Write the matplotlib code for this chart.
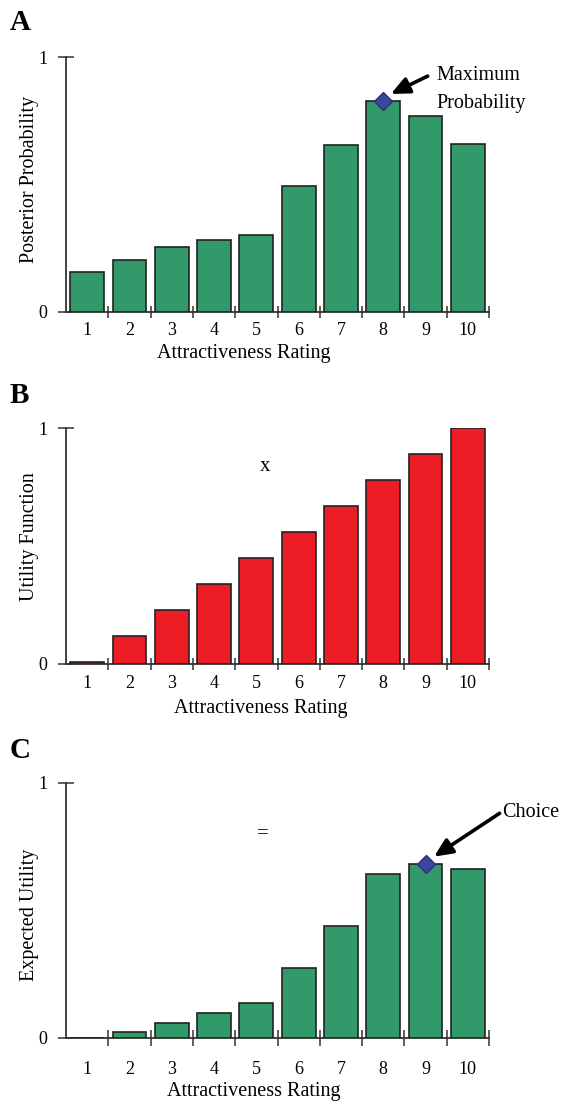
import matplotlib
matplotlib.use("Agg")
import matplotlib.pyplot as plt
from matplotlib.ticker import FixedLocator

ratings = [1, 2, 3, 4, 5, 6, 7, 8, 9, 10]
tick_labels = ["1", "2", "3", "4", "5", "6", "7", "8", "9", "10"]
posterior = [0.157, 0.204, 0.255, 0.282, 0.302, 0.494, 0.655, 0.827, 0.770, 0.659]
utility = [0.01, 0.12, 0.23, 0.34, 0.45, 0.56, 0.67, 0.78, 0.89, 1.00]
expected = [0.0, 0.024, 0.059, 0.095, 0.137, 0.275, 0.440, 0.642, 0.682, 0.660]

GREEN = "#31996a"
RED = "#ec1d25"
EDGE = "#222222"
AXC = "#333333"
DIAMOND = "#3a46a0"

plt.rcParams['font.family'] = ['Liberation Serif', 'DejaVu Serif']

W, H = 561, 1101
fig = plt.figure(figsize=(W / 100, H / 100), dpi=100)

TICKFS = 13
LABFS = 14.5
ARROW = dict(arrowstyle="-|>,head_length=1.1,head_width=0.5", color="black", lw=2.6,
             shrinkA=0, shrinkB=0)


def make_ax(y0px, y1px, x0px=66, x1px=489):
    return fig.add_axes([x0px / W, (H - y0px) / H, (x1px - x0px) / W, (y0px - y1px) / H])


def style(ax, vals, color, ylabel, xpad, ypad_label, xlab_x, ylab_y):
    ax.bar(ratings, vals, width=0.8, color=color, edgecolor=EDGE, linewidth=1.2, zorder=3)
    ax.set_xlim(0.5, 10.5)
    ax.set_ylim(0, 1)
    for s in ["top", "right"]:
        ax.spines[s].set_visible(False)
    for s in ["left", "bottom"]:
        ax.spines[s].set_color(AXC)
        ax.spines[s].set_linewidth(1.3)
    ax.set_xticks(ratings)
    ax.set_xticklabels(tick_labels, fontsize=TICKFS)
    ax.tick_params(axis="x", which="major", length=0, pad=xpad)
    ax.xaxis.set_minor_locator(FixedLocator([r + 0.5 for r in ratings]))
    ax.tick_params(axis="x", which="minor", direction="inout", length=9, width=1.1, color=AXC)
    ax.set_yticks([0, 1])
    ax.set_yticklabels(["0", "1"], fontsize=TICKFS)
    ax.tick_params(axis="y", direction="inout", length=11, width=1.1, color=AXC, pad=8)
    ax.set_xlabel("Attractiveness Rating", fontsize=LABFS)
    ax.xaxis.set_label_coords(xlab_x, ypad_label)
    ax.set_ylabel(ylabel, fontsize=LABFS)
    ax.yaxis.set_label_coords(-0.065, ylab_y)


# Panel A
axA = make_ax(312, 57)
style(axA, posterior, GREEN, "Posterior Probability", 7, -0.125, 0.42, 0.518)
axA.plot([8], [posterior[7]], marker="D", markersize=9, color=DIAMOND,
         markeredgecolor="#2a2f7a", zorder=5, clip_on=False)
axA.annotate("", xy=(8.18, 0.855), xytext=(9.05, 0.925), arrowprops=ARROW,
             annotation_clip=False)
axA.text(9.25, 0.873, "Maximum\nProbability", fontsize=LABFS, va="center", ha="left",
         linespacing=1.6)
fig.text(10 / W, 1 - 23 / H, "A", fontsize=21, fontweight="bold", va="center", ha="left")

# Panel B
axB = make_ax(664, 428.3)
style(axB, utility, RED, "Utility Function", 8, -0.148, 0.46, 0.539)
axB.text(5.2, 0.836, "x", fontsize=15, ha="center", va="center")
fig.text(10 / W, 1 - 395 / H, "B", fontsize=21, fontweight="bold", va="center", ha="left")

# Panel C
axC = make_ax(1037.7, 782.7)
style(axC, expected, GREEN, "Expected Utility", 17, -0.175, 0.445, 0.48)
axC.tick_params(axis="x", which="minor", length=12)
axC.plot([9], [expected[8]], marker="D", markersize=9, color=DIAMOND,
         markeredgecolor="#2a2f7a", zorder=5, clip_on=False)
axC.annotate("", xy=(9.2, 0.71), xytext=(10.75, 0.88), arrowprops=ARROW,
             annotation_clip=False)
axC.text(10.8, 0.885, "Choice", fontsize=LABFS, va="center", ha="left")
axC.text(5.16, 0.80, "=", fontsize=15, ha="center", va="center")
fig.text(10 / W, 1 - 751 / H, "C", fontsize=21, fontweight="bold", va="center", ha="left")

fig.savefig("out.png", dpi=100)
